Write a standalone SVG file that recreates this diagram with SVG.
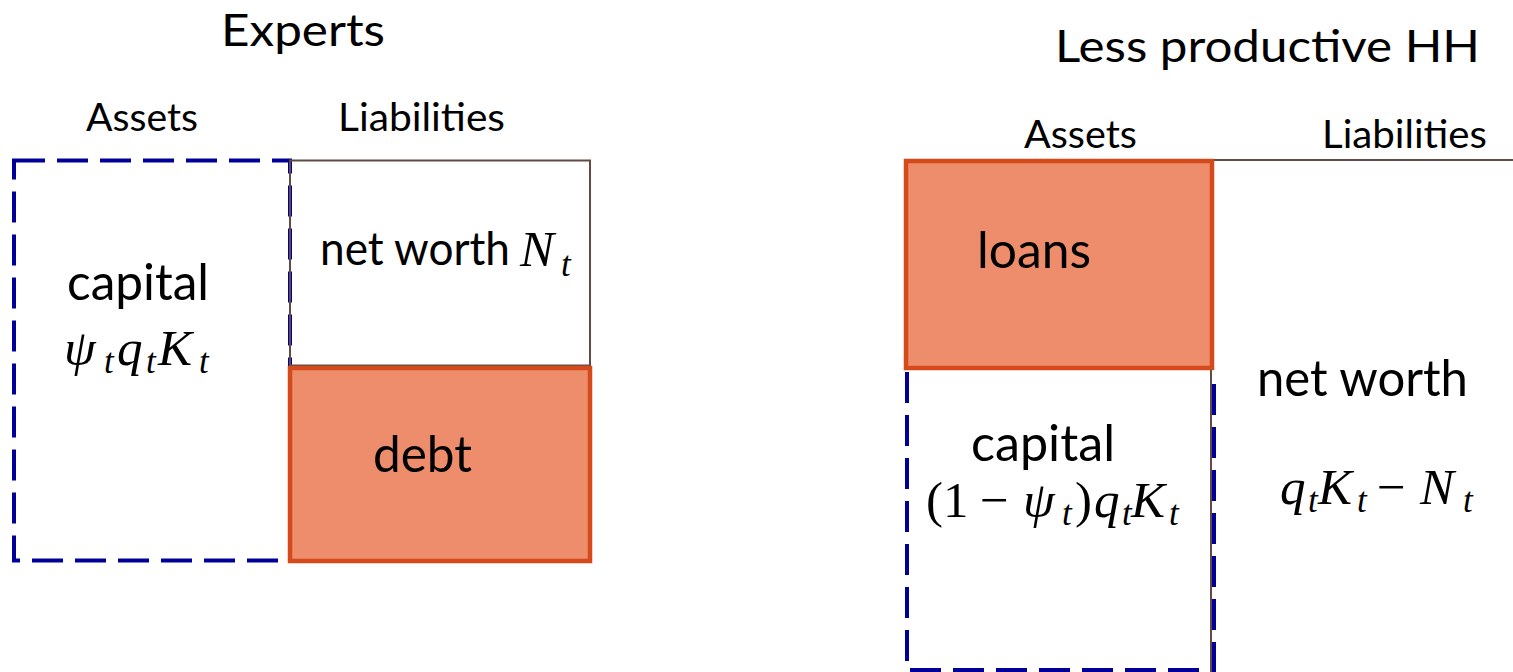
<svg xmlns="http://www.w3.org/2000/svg" width="1513" height="672" viewBox="0 0 1513 672">
<style>
.t{font-family:Lato,"Open Sans","Liberation Sans",sans-serif;fill:#000}
.h{font-size:45px}
.s{font-size:38px}
.m{font-size:50px}
.mi{font-family:"Liberation Serif","DejaVu Serif",serif;font-style:italic;font-size:51px;fill:#000}
.mu{font-family:"Liberation Serif","DejaVu Serif",serif;font-size:51px;fill:#000}
.sub{font-family:"Liberation Serif","DejaVu Serif",serif;font-style:italic;font-size:35px;fill:#000}
.dash{fill:none;stroke:#000099;stroke-width:4;stroke-dasharray:31 12}
.debt{fill:#EE8D6B;stroke:#D54A1B;stroke-width:4.5}
.brown{fill:none;stroke:#634B45;stroke-width:2}
</style>
<rect width="1513" height="672" fill="#fff"/>

<g id="experts">
  <text class="t h" x="221" y="46" textLength="164" lengthAdjust="spacingAndGlyphs">Experts</text>
  <text class="t s" x="86" y="131" textLength="112" lengthAdjust="spacingAndGlyphs">Assets</text>
  <text class="t s" x="338" y="131" textLength="167" lengthAdjust="spacingAndGlyphs">Liabilities</text>
</g>

<g id="experts-capital">
  <rect class="dash" x="14" y="160.5" width="276" height="400"/>
  <text class="t m" x="67" y="300" textLength="142" lengthAdjust="spacingAndGlyphs">capital</text>
  <text class="mi" x="64" y="365">ψ</text>
  <text class="sub" x="104" y="373">t</text>
  <text class="mi" x="117" y="365">q</text>
  <text class="sub" x="146" y="373">t</text>
  <text class="mi" x="158" y="365">K</text>
  <text class="sub" x="199" y="373">t</text>
</g>

<g id="experts-networth">
  <rect class="brown" x="290" y="160.5" width="300" height="205"/>
  <text class="t" style="font-size:46px" x="320" y="265" textLength="190" lengthAdjust="spacingAndGlyphs">net worth</text>
  <text class="mi" x="520" y="266">N</text>
  <text class="sub" x="561" y="276">t</text>
</g>

<g id="experts-debt">
  <rect class="debt" x="290" y="368" width="300" height="193"/>
  <text class="t m" x="373" y="472" textLength="99" lengthAdjust="spacingAndGlyphs">debt</text>
</g>

<g id="hh">
  <text class="t h" x="1055" y="62" textLength="425" lengthAdjust="spacingAndGlyphs">Less productive HH</text>
  <text class="t s" x="1024" y="148" textLength="113" lengthAdjust="spacingAndGlyphs">Assets</text>
  <text class="t s" x="1322" y="148" textLength="165" lengthAdjust="spacingAndGlyphs">Liabilities</text>
</g>

<g id="hh-capital">
  <path class="dash" d="M907 372 V670 H1214 V372"/>
  <text class="t m" x="971" y="461" textLength="144" lengthAdjust="spacingAndGlyphs">capital</text>
  <text class="mu" x="926" y="517">(1</text>
  <text class="mu" x="980" y="517">−</text>
  <text class="mi" x="1023" y="517">ψ</text>
  <text class="sub" x="1062" y="525">t</text>
  <text class="mu" x="1075" y="517">)</text>
  <text class="mi" x="1094" y="517">q</text>
  <text class="sub" x="1122" y="525">t</text>
  <text class="mi" x="1131" y="517">K</text>
  <text class="sub" x="1169" y="525">t</text>
</g>

<g id="hh-networth">
  <path class="brown" d="M1211 672 V160 H1513"/>
  <text class="t m" x="1257" y="396" textLength="211" lengthAdjust="spacingAndGlyphs">net worth</text>
  <text class="mi" x="1280" y="504">q</text>
  <text class="sub" x="1308" y="512">t</text>
  <text class="mi" x="1318" y="504">K</text>
  <text class="sub" x="1357" y="512">t</text>
  <text class="mu" x="1377" y="504">−</text>
  <text class="mi" x="1420" y="504">N</text>
  <text class="sub" x="1463" y="512">t</text>
</g>

<g id="hh-loans">
  <rect class="debt" x="906" y="161" width="306" height="207"/>
  <text class="t m" x="977" y="268" textLength="114" lengthAdjust="spacingAndGlyphs">loans</text>
</g>

<g id="connectors"></g>
</svg>
